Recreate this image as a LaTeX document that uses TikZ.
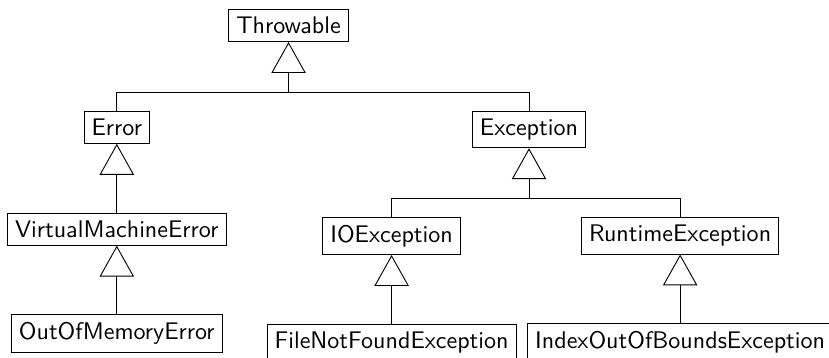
\documentclass[tikz,border=0pt]{standalone}
\usetikzlibrary{positioning, arrows.meta}
\begin{document}
\begin{tikzpicture}[node distance={30pt}, cls/.style = {draw, font=\sffamily\fontsize{10.5pt}{12pt}\selectfont}, inherit/.style = {-{Triangle[open, length=13.5pt, width=15pt]}}]
        \useasboundingbox (0,0) rectangle (362pt,-156pt);
        \node[cls, anchor=north] (throwable) at (126pt,-3.9pt) {Throwable};
        \node[cls] (error) [below=of throwable, xshift=-75pt] {Error};
        \node[cls] (exception) [below=of throwable, xshift=105pt] {Exception};
        \node[cls] (vme) [below=of error] {VirtualMachineError};
        \node[cls] (oom) [below=of vme] {OutOfMemoryError};
        \node[cls] (ioexc) [below=of exception, xshift=-60pt] {IOException};
        \node[cls] (runtime) [below=of exception, xshift=66pt] {RuntimeException};
        \node[cls] (fnf) [below=of ioexc] {FileNotFoundException};
        \node[cls] (index) [below=of runtime] {IndexOutOfBoundsException};
        \path (error.north) ++(0,8pt) coordinate (bar1);
        \coordinate (fork1) at (bar1 -| throwable.south);
        \path (ioexc.north) ++(0,8pt) coordinate (bar2);
        \coordinate (fork2) at (bar2 -| exception.south);
        \draw (error.north) |- (fork1) -| (exception.north);
        \draw (ioexc.north) |- (fork2) -| (runtime.north);
        \draw[inherit] (fork1) -- (throwable.south);
        \draw[inherit] (fork2) -- (exception.south);
        \draw[inherit] (vme) -- (error);
        \draw[inherit] (oom) -- (vme);
        \draw[inherit] (fnf) -- (ioexc);
        \draw[inherit] (index) -- (runtime);
    \end{tikzpicture}
\end{document}
